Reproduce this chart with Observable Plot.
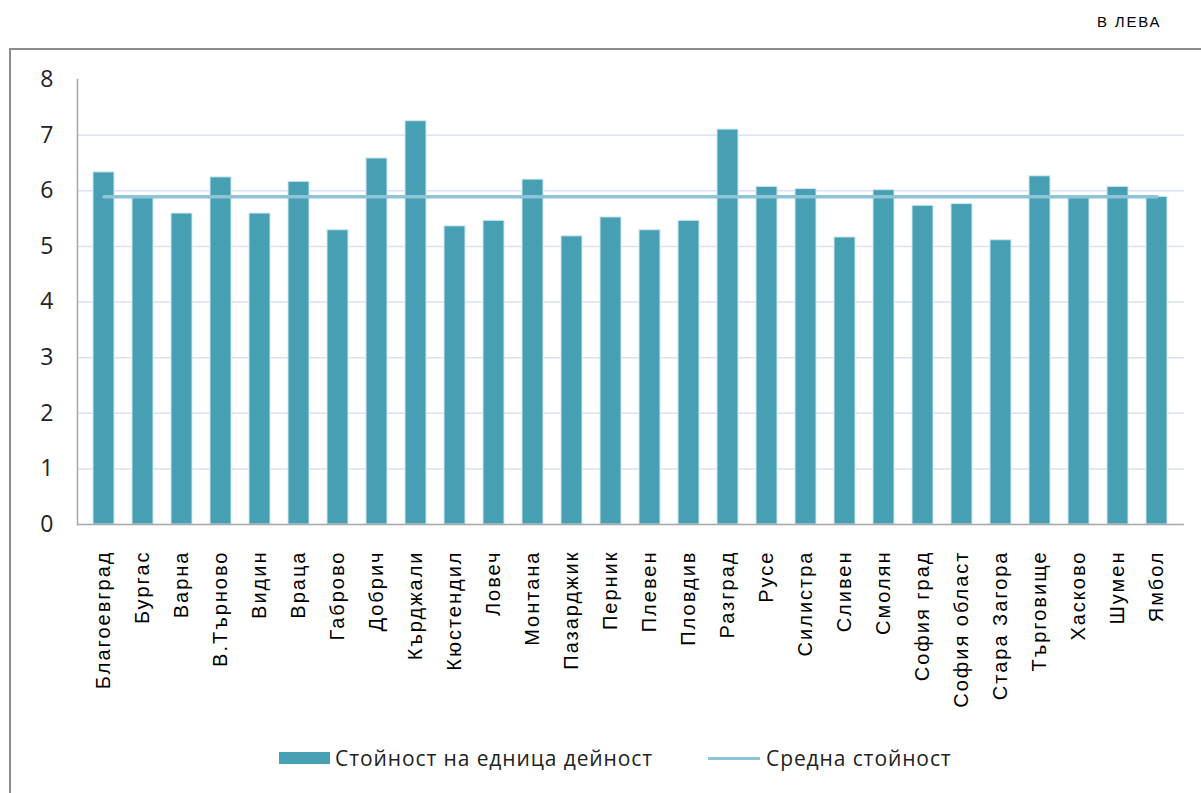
<!DOCTYPE html>
<html><head><meta charset="utf-8">
<script src="https://cdn.jsdelivr.net/npm/d3@7"></script>
<script src="https://cdn.jsdelivr.net/npm/@observablehq/plot@0.6"></script>
<style>
body{margin:0;background:#fff;}
#wrap{position:relative;width:1201px;height:793px;overflow:hidden;}
#frame{position:absolute;left:9px;top:48px;width:1300px;height:800px;border:2px solid #8c8c8c;box-sizing:border-box;}
#unit{position:absolute;left:1097px;top:13px;font:15px "Liberation Sans",Arial,sans-serif;letter-spacing:1.8px;color:#000;}
#legend{position:absolute;top:744px;left:0;width:1201px;font:21px "Open Sans",sans-serif;letter-spacing:0.9px;color:#222;}
.li{position:absolute;display:flex;align-items:center;white-space:nowrap;}
#chart{position:absolute;left:0;top:0;}
</style></head>
<body><div id="wrap"><div id="frame"></div><div id="unit">В ЛЕВА</div><div id="chart"></div><div id="legend"></div></div>
<script>
const categories = ["Благоевград","Бургас","Варна","В.Търново","Видин","Враца","Габрово","Добрич","Кърджали","Кюстендил","Ловеч","Монтана","Пазарджик","Перник","Плевен","Пловдив","Разград","Русе","Силистра","Сливен","Смолян","София град","София област","Стара Загора","Търговище","Хасково","Шумен","Ямбол"];
const values = [6.33,5.87,5.59,6.24,5.59,6.16,5.29,6.58,7.25,5.36,5.46,6.20,5.18,5.52,5.29,5.46,7.10,6.07,6.03,5.16,6.01,5.73,5.76,5.11,6.26,5.88,6.07,5.89];
const meanValue = 5.89;
const yTicks = [0,1,2,3,4,5,6,7,8];
const gridTicks = [1,2,3,4,5,6,7];
const seriesNames = ["Стойност на едница дейност","Средна стойност"];

const barColor = "#479fb4", lineColor = "#8ec4d6";
const data = categories.map((c,i)=>({c, v: values[i]}));

const chart = Plot.plot({
  width: 1201, height: 793,
  marginLeft: 77, marginRight: 17, marginTop: 79, marginBottom: 269,
  x: {domain: categories, paddingInner: 0.45, paddingOuter: 0.225, axis: null},
  y: {domain: [0, 8], axis: null},
  marks: [
    Plot.ruleY(gridTicks, {stroke: "#d9e1f2", strokeWidth: 1.5}),
    Plot.barY(data, {x: "c", y: "v", fill: barColor, stroke: "#cfe7ef", strokeWidth: 1}),
    Plot.lineY(categories, {x: d => d, y: () => meanValue, stroke: lineColor, strokeWidth: 3.5}),
    Plot.ruleY([0], {stroke: "#a6a6a6", strokeWidth: 1.5}),
    Plot.frame({anchor: "left", stroke: "#a6a6a6", strokeWidth: 1.5}),
    Plot.axisY({ticks: yTicks, tickFormat: d => String(d), label: null, tickSize: 0, tickPadding: 24, fontSize: 23, fontFamily: "Open Sans", fill: "#222"}),
    Plot.axisX({tickSize: 0, tickRotate: -90, tickPadding: 26, fontSize: 20, fontFamily: "Liberation Sans", fill: "#000", label: null})
  ]
});
d3.select(chart).selectAll("g[aria-label='x-axis tick label'] text").style("letter-spacing", "2px");
document.getElementById("chart").appendChild(chart);

const lg = document.getElementById("legend");
const sw = [
  `<span style="display:inline-block;width:51px;height:12px;background:${barColor};margin-right:5px"></span>`,
  `<span style="display:inline-block;width:52px;height:3px;background:${lineColor};margin-right:6px"></span>`
];
const lefts = [279, 708];
seriesNames.forEach((n,i)=>{
  const d = document.createElement("div");
  d.className = "li"; d.style.left = lefts[i]+"px";
  d.innerHTML = sw[i] + `<span>${n}</span>`;
  lg.appendChild(d);
});
</script></body></html>
